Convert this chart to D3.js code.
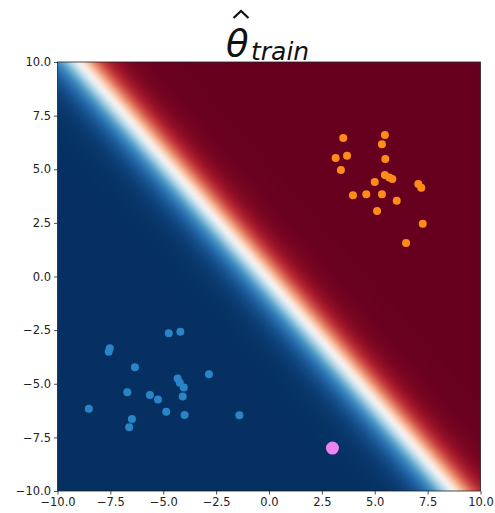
<!DOCTYPE html>
<html>
<head>
<meta charset="utf-8">
<script src="https://cdn.jsdelivr.net/npm/d3@7"></script>
<style>
  html, body { margin: 0; padding: 0; background: #fff; }
  svg { display: block; font-family: "DejaVu Sans", sans-serif; }
</style>
</head>
<body>
<svg id="chart" width="495" height="513"></svg>
<script>
// Training points of the two classes and the query point
const class0X = [-4.74, -4.19, -7.53, -7.58, -6.34, -2.84, -4.32, -4.22, -4.03, -6.70, -5.63, -5.25, -4.08, -8.52, -4.86, -3.99, -1.40, -6.48, -6.61];
const class0Y = [-2.65, -2.57, -3.35, -3.51, -4.23, -4.56, -4.76, -4.95, -5.17, -5.40, -5.52, -5.74, -5.59, -6.16, -6.30, -6.46, -6.47, -6.64, -7.03];
const class1X = [3.51, 5.48, 5.34, 3.15, 3.69, 5.50, 3.40, 5.48, 5.69, 5.83, 5.00, 7.06, 7.20, 3.97, 4.60, 5.34, 6.04, 5.11, 7.27, 6.48];
const class1Y = [6.46, 6.60, 6.16, 5.52, 5.63, 5.48, 4.97, 4.73, 4.61, 4.55, 4.41, 4.31, 4.14, 3.79, 3.83, 3.83, 3.53, 3.05, 2.46, 1.56];
const queryPoint = [3.0, -8.0];

// Fitted linear classifier: p = sigmoid(w·x + b)
const weights = [2.0 * 20 / 26.7, 2.0 * 17.7 / 26.7];
const bias = 2.0 * 3 / 26.7;

const ticks = [-10, -7.5, -5, -2.5, 0, 2.5, 5, 7.5, 10];

const margin = { left: 57.5, top: 62, right: 14.5, bottom: 22 };
const W = 495, H = 513;
const pw = W - margin.left - margin.right;
const ph = H - margin.top - margin.bottom;

const svg = d3.select("#chart");
const x = d3.scaleLinear().domain([-10, 10]).range([0, pw]);
const y = d3.scaleLinear().domain([-10, 10]).range([ph, 0]);

const g = svg.append("g").attr("transform", `translate(${margin.left},${margin.top})`);

// Probability surface rendered into an offscreen canvas, then placed as an image
const cw = Math.round(pw), ch = Math.round(ph);
const canvas = document.createElement("canvas");
canvas.width = cw; canvas.height = ch;
const ctx = canvas.getContext("2d");
const img = ctx.createImageData(cw, ch);
for (let j = 0; j < ch; j++) {
  const yv = y.invert(j + 0.5);
  for (let i = 0; i < cw; i++) {
    const xv = x.invert(i + 0.5);
    const z = weights[0] * xv + weights[1] * yv + bias;
    const p = 1 / (1 + Math.exp(-z));
    const c = d3.rgb(d3.interpolateRdBu(1 - p));
    const k = (j * cw + i) * 4;
    img.data[k] = c.r; img.data[k + 1] = c.g; img.data[k + 2] = c.b; img.data[k + 3] = 255;
  }
}
ctx.putImageData(img, 0, 0);
g.append("image")
  .attr("x", 0).attr("y", 0)
  .attr("width", pw).attr("height", ph)
  .attr("preserveAspectRatio", "none")
  .attr("href", canvas.toDataURL());

// Scatter points
const pts0 = class0X.map((v, i) => [v, class0Y[i]]);
const pts1 = class1X.map((v, i) => [v, class1Y[i]]);
g.append("g").selectAll("circle").data(pts0).join("circle")
  .attr("cx", d => x(d[0])).attr("cy", d => y(d[1])).attr("r", 4)
  .attr("fill", "#2a85c8");
g.append("g").selectAll("circle").data(pts1).join("circle")
  .attr("cx", d => x(d[0])).attr("cy", d => y(d[1])).attr("r", 4)
  .attr("fill", "#ff8c1a");
g.append("circle")
  .attr("cx", x(queryPoint[0])).attr("cy", y(queryPoint[1])).attr("r", 6.5)
  .attr("fill", "#ee82ee");

// Axes
const fmt = d3.format(".1f");
const minus = v => fmt(v).replace("-", "\u2212");
const xAxis = g.append("g").attr("transform", `translate(0,${ph})`)
  .call(d3.axisBottom(x).tickValues(ticks).tickFormat(minus).tickSize(3.5).tickPadding(3));
const yAxis = g.append("g")
  .call(d3.axisLeft(y).tickValues(ticks).tickFormat(minus).tickSize(3.5).tickPadding(3));
[xAxis, yAxis].forEach(a => {
  a.select(".domain").remove();
  a.selectAll("text").attr("font-size", "11.5px").attr("fill", "#222")
    .attr("font-family", "DejaVu Sans, sans-serif");
  a.selectAll("line").attr("stroke", "#222").attr("stroke-width", 0.8);
});

// Frame
g.append("rect").attr("width", pw).attr("height", ph)
  .attr("fill", "none").attr("stroke", "#222").attr("stroke-width", 0.8);

// Title: theta with a hat accent and the "train" subscript
const title = svg.append("g");
title.append("text").attr("x", 226).attr("y", 56)
  .attr("font-size", 37).attr("font-style", "italic").attr("fill", "#111").text("θ");
title.append("path")
  .attr("d", "M233.5,18 L241,11 L248.5,18")
  .attr("fill", "none").attr("stroke", "#111").attr("stroke-width", 2.2)
  .attr("stroke-linejoin", "miter");
title.append("text").attr("x", 251).attr("y", 60)
  .attr("font-size", 25).attr("font-style", "italic").attr("fill", "#111").text("train");
</script>
</body>
</html>
